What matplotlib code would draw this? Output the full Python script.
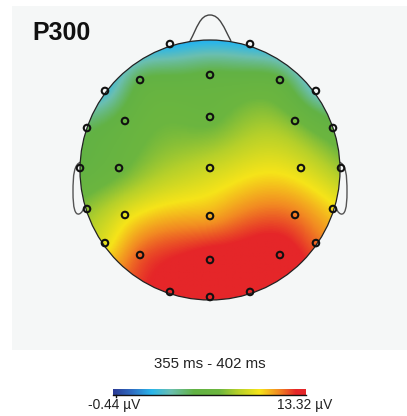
import numpy as np
import matplotlib
matplotlib.use("Agg")
import matplotlib.pyplot as plt
from matplotlib.colors import LinearSegmentedColormap
from matplotlib.patches import Circle, Rectangle
from matplotlib.path import Path
from matplotlib.patches import PathPatch

# ---------------- data ----------------
title = "P300"
time_window = "355 ms - 402 ms"
vmin, vmax = -0.44, 13.32
unit = "µV"

channels = ["Fp1", "Fp2",
            "F7", "F3", "Fz", "F4", "F8",
            "FT7", "FC3", "FCz", "FC4", "FT8",
            "T7", "C3", "Cz", "C4", "T8",
            "TP7", "CP3", "CPz", "CP4", "TP8",
            "P7", "P3", "Pz", "P4", "P8",
            "O1", "Oz", "O2"]
# normalised montage coordinates (head radius = 1, nose up)
elec_x = [-0.308, 0.308,
          -0.808, -0.538, 0.0, 0.538, 0.815,
          -0.946, -0.654, 0.0, 0.654, 0.946,
          -1.0, -0.700, 0.0, 0.700, 1.008,
          -0.946, -0.654, 0.0, 0.654, 0.946,
          -0.808, -0.538, 0.0, 0.538, 0.815,
          -0.308, 0.0, 0.308]
elec_y = [0.969, 0.969,
          0.608, 0.692, 0.731, 0.692, 0.608,
          0.323, 0.377, 0.408, 0.377, 0.323,
          0.015, 0.015, 0.015, 0.015, 0.015,
          -0.300, -0.346, -0.354, -0.346, -0.300,
          -0.562, -0.654, -0.692, -0.654, -0.562,
          -0.938, -0.977, -0.938]
amplitudes = [2.0, 2.2,
              2.8, 5.3, 5.6, 5.6, 3.2,
              5.0, 6.0, 6.8, 7.3, 6.0,
              5.6, 6.8, 9.0, 9.4, 8.0,
              7.8, 9.6, 10.9, 11.6, 10.2,
              9.6, 11.9, 13.1, 13.2, 11.8,
              13.0, 13.3, 13.1]

# ---------------- layout ----------------
W, H = 407, 416
cx, cy, R = 210.0, 170.0, 130.0

cmap = LinearSegmentedColormap.from_list("erp", [
    (0.00, "#2b3a94"),
    (0.10, "#2f6fc4"),
    (0.20, "#2ab6ea"),
    (0.30, "#6bbfb0"),
    (0.42, "#62b244"),
    (0.55, "#6cb63f"),
    (0.65, "#b6d02a"),
    (0.76, "#f6e419"),
    (0.86, "#f28a22"),
    (0.95, "#e52629"),
    (1.00, "#e52629"),
])

fig = plt.figure(figsize=(W / 100, H / 100), dpi=100)
fig.patch.set_facecolor("white")
ax = fig.add_axes([0, 0, 1, 1])
ax.set_xlim(0, W)
ax.set_ylim(H, 0)
ax.axis("off")

# grey panel
ax.add_patch(Rectangle((12, 6), W - 12, 344, facecolor="#f5f7f7", edgecolor="none", zorder=0))

# thin-plate spline interpolation
ex = np.array(elec_x)
ey = np.array(elec_y)
v = np.array(amplitudes)
n = len(v)

def tps_kernel(r):
    with np.errstate(divide="ignore", invalid="ignore"):
        k = r ** 2 * np.log(r)
    return np.nan_to_num(k)

d = np.hypot(ex[:, None] - ex[None, :], ey[:, None] - ey[None, :])
K = tps_kernel(d)
P = np.column_stack([np.ones(n), ex, ey])
A = np.zeros((n + 3, n + 3))
A[:n, :n] = K
A[:n, n:] = P
A[n:, :n] = P.T
b = np.concatenate([v, np.zeros(3)])
sol = np.linalg.solve(A, b)
w, a = sol[:n], sol[n:]

gx = np.linspace(-1.02, 1.02, 300)
gy = np.linspace(-1.02, 1.02, 300)
GX, GY = np.meshgrid(gx, gy)
dd = np.hypot(GX[..., None] - ex, GY[..., None] - ey)
Z = tps_kernel(dd) @ w + a[0] + a[1] * GX + a[2] * GY
Z = np.clip(Z, vmin, vmax)

im = ax.imshow(Z, cmap=cmap, vmin=vmin, vmax=vmax, origin="lower",
               extent=[cx - 1.02 * R, cx + 1.02 * R, cy + 1.02 * R, cy - 1.02 * R],
               interpolation="bilinear", zorder=2)
clip = Circle((cx, cy), R, transform=ax.transData)
im.set_clip_path(clip)

ax.add_patch(Circle((cx, cy), R, facecolor="none", edgecolor="#222222", lw=0.9, zorder=3))

# nose
nose = Path([(cx - 20, cy - R + 1),
             (cx - 13, cy - R - 12), (cx - 10, cy - R - 25), (cx, cy - R - 25),
             (cx + 10, cy - R - 25), (cx + 14, cy - R - 12), (cx + 21, cy - R + 1)],
            [Path.MOVETO, Path.CURVE4, Path.CURVE4, Path.CURVE4,
             Path.CURVE4, Path.CURVE4, Path.CURVE4])
ax.add_patch(PathPatch(nose, facecolor="none", edgecolor="#444444", lw=1.0, zorder=3))

# ears
for s in (-1, 1):
    ear = Path([(cx + s * (R - 1), cy - 8),
                (cx + s * (R + 6), cy - 6), (cx + s * (R + 7), cy + 5), (cx + s * (R + 7), cy + 22),
                (cx + s * (R + 7), cy + 38), (cx + s * (R + 5), cy + 45), (cx + s * (R + 1), cy + 44),
                (cx + s * (R - 2), cy + 43), (cx + s * (R - 3), cy + 40), (cx + s * (R - 4), cy + 38)],
               [Path.MOVETO, Path.CURVE4, Path.CURVE4, Path.CURVE4,
                Path.CURVE4, Path.CURVE4, Path.CURVE4, Path.CURVE4, Path.CURVE4, Path.CURVE4])
    ax.add_patch(PathPatch(ear, facecolor="none", edgecolor="#555555", lw=1.0, zorder=1))

# electrodes
ax.scatter(cx + R * ex, cy - R * ey, s=22, facecolors="none", edgecolors="#111111",
           linewidths=1.5, zorder=4)

# texts
ax.text(32, 33, title, fontsize=18, fontweight="bold", family="Liberation Sans",
        ha="left", va="center", color="#111111", zorder=5)
ax.text(cx, 364, time_window, fontsize=10.8, family="Liberation Sans",
        ha="center", va="center", color="#222222")

# colorbar
cb_x0, cb_x1, cb_y0, cb_y1 = 113, 306, 389, 395
grad = np.linspace(vmin, vmax, 256)[None, :]
ax.imshow(grad, cmap=cmap, vmin=vmin, vmax=vmax, aspect="auto",
          extent=[cb_x0, cb_x1, cb_y1, cb_y0], zorder=2)
ax.plot([cb_x0, cb_x1], [cb_y1, cb_y1], color="#111111", lw=1.0, zorder=3)
ax.plot([cb_x0 + 3, cb_x0 + 3], [cb_y1, cb_y1 + 2], color="#111111", lw=1.0, zorder=3)
ax.text(114, 405, f"{vmin:.2f} {unit}", fontsize=9.9, family="Liberation Sans",
        ha="center", va="center", color="#222222")
ax.text(305, 405, f"{vmax:.2f} {unit}", fontsize=9.9, family="Liberation Sans",
        ha="center", va="center", color="#222222")

fig.savefig("out.png", dpi=100, facecolor="white")
